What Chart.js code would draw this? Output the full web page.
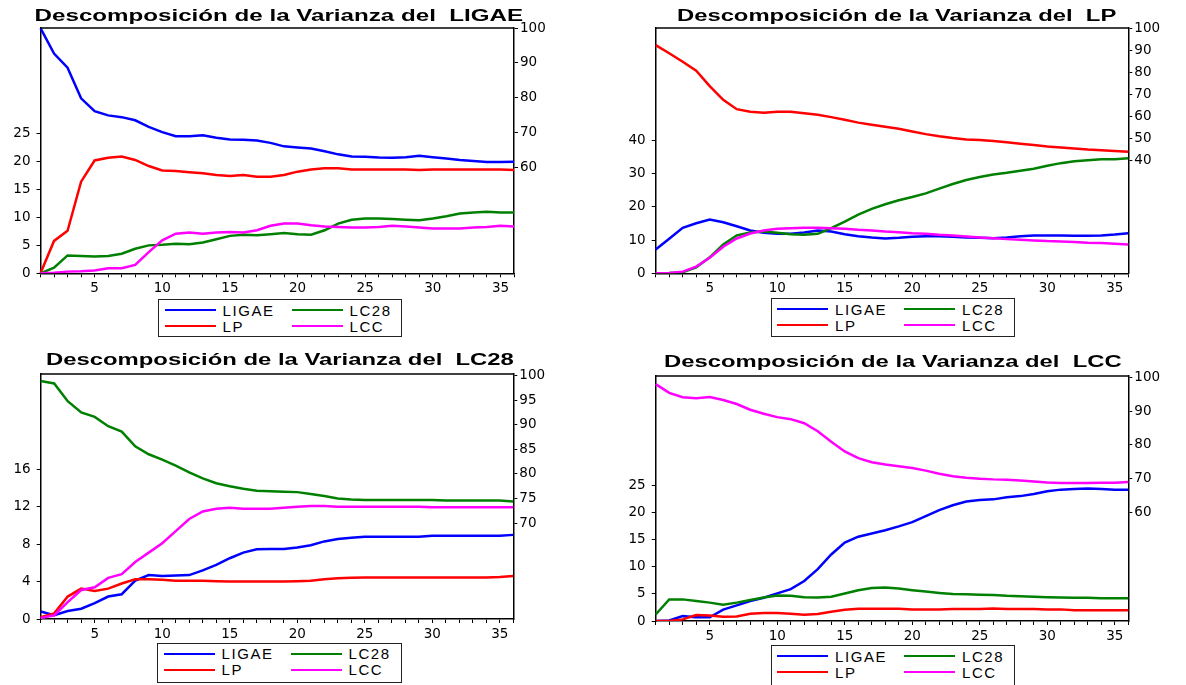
<!DOCTYPE html>
<html>
<head>
<meta charset="utf-8">
<script src="https://cdn.jsdelivr.net/npm/chart.js@4.4.1/dist/chart.umd.min.js"></script>
<style>
    body { margin: 0; background: #fff; width: 1186px; height: 685px; position: relative; overflow: hidden; font-family: "Liberation Sans", Arial, sans-serif; }
    .caja { position: absolute; }
    .titulo { position: absolute; font-weight: bold; font-size: 16px; line-height: 16px; white-space: pre; transform-origin: center top; color: #000; }
    .leyenda { position: absolute; border: 1.5px solid #222; box-sizing: border-box; background: #fff; }
    .item { position: absolute; height: 16px; display: flex; align-items: center; font-size: 15px; letter-spacing: 1.6px; white-space: nowrap; color: #000; }
    .item i { display: inline-block; width: 51px; height: 2px; margin-right: 7px; }
</style>
</head>
<body>
<script>
// periodos del horizonte
const periodos = [1, 2, 3, 4, 5, 6, 7, 8, 9, 10, 11, 12, 13, 14, 15, 16, 17, 18,
    19, 20, 21, 22, 23, 24, 25, 26, 27, 28, 29, 30, 31, 32, 33, 34, 35, 36];

const series = ["LIGAE", "LP", "LC28", "LCC"];

// Descomposicion de la varianza del LIGAE
const ligae_LIGAE = [100, 92.7, 88.6, 79.8, 76.1, 74.9, 74.4, 73.5, 71.6, 70.1, 68.9, 68.9, 69.2, 68.5, 68.0, 67.9, 67.7, 67.0,
    66.0, 65.7, 65.4, 64.6, 63.7, 63.1, 63.0, 62.8, 62.7, 62.9, 63.3, 62.9, 62.5, 62.1, 61.8, 61.5, 61.5, 61.6];
const ligae_LP = [0, 5.8, 7.6, 16.4, 20.2, 20.7, 20.9, 20.3, 19.2, 18.4, 18.3, 18.1, 17.9, 17.6, 17.4, 17.6, 17.3, 17.3,
    17.6, 18.2, 18.6, 18.8, 18.8, 18.6, 18.6, 18.6, 18.6, 18.6, 18.5, 18.6, 18.6, 18.6, 18.6, 18.6, 18.6, 18.5];
const ligae_LC28 = [0, 1.0, 3.2, 3.1, 3.0, 3.1, 3.5, 4.4, 5.0, 5.1, 5.3, 5.2, 5.5, 6.1, 6.7, 6.9, 6.8, 7.0,
    7.2, 7.0, 6.9, 7.7, 8.9, 9.6, 9.8, 9.8, 9.7, 9.6, 9.5, 9.8, 10.2, 10.7, 10.9, 11.0, 10.9, 10.9];
const ligae_LCC = [0, 0.1, 0.3, 0.35, 0.5, 0.9, 0.9, 1.5, 3.8, 5.9, 7.1, 7.3, 7.1, 7.3, 7.4, 7.3, 7.7, 8.5,
    8.9, 8.9, 8.6, 8.4, 8.3, 8.2, 8.2, 8.3, 8.5, 8.4, 8.2, 8.0, 8.0, 8.0, 8.2, 8.3, 8.5, 8.4];

// Descomposicion de la varianza del LP
const lp_LIGAE = [7.2, 10.4, 13.7, 15.1, 16.2, 15.4, 14.2, 12.9, 12.2, 11.9, 11.9, 12.3, 12.9, 12.6, 11.8, 11.2, 10.8, 10.5,
    10.7, 11.0, 11.2, 11.2, 11.0, 10.8, 10.7, 10.6, 10.8, 11.2, 11.4, 11.4, 11.4, 11.3, 11.3, 11.4, 11.7, 12.1];
const lp_LP = [92.3, 88.6, 84.8, 80.7, 73.7, 67.5, 63.3, 62.1, 61.7, 62.1, 62.1, 61.5, 60.8, 59.7, 58.5, 57.2, 56.2, 55.3,
    54.4, 53.2, 52.0, 51.0, 50.2, 49.6, 49.3, 48.9, 48.3, 47.7, 47.1, 46.4, 45.9, 45.5, 45.0, 44.7, 44.4, 44.0];
const lp_LC28 = [0, 0.1, 0.3, 1.8, 4.8, 8.7, 11.4, 12.3, 12.6, 12.2, 11.8, 11.6, 11.9, 13.6, 15.6, 17.7, 19.4, 20.8,
    22.0, 23.0, 24.1, 25.5, 26.9, 28.1, 29.0, 29.8, 30.3, 30.9, 31.5, 32.4, 33.2, 33.8, 34.1, 34.4, 34.4, 34.7];
const lp_LCC = [0, 0.1, 0.5, 2.0, 4.7, 8.0, 10.5, 12.0, 12.9, 13.4, 13.6, 13.7, 13.7, 13.6, 13.4, 13.1, 12.9, 12.6,
    12.4, 12.1, 11.9, 11.6, 11.4, 11.1, 10.8, 10.6, 10.3, 10.1, 9.9, 9.7, 9.6, 9.4, 9.2, 9.1, 8.9, 8.7];

// Descomposicion de la varianza del LC28
const lc28_LIGAE = [0.8, 0.4, 0.85, 1.1, 1.7, 2.4, 2.65, 4.1, 4.7, 4.6, 4.65, 4.7, 5.2, 5.8, 6.5, 7.1, 7.45, 7.5,
    7.5, 7.65, 7.9, 8.3, 8.55, 8.7, 8.8, 8.8, 8.8, 8.8, 8.8, 8.9, 8.9, 8.9, 8.9, 8.9, 8.9, 9.0];
const lc28_LP = [0.2, 0.6, 2.4, 3.25, 3.0, 3.25, 3.8, 4.25, 4.25, 4.2, 4.1, 4.1, 4.1, 4.05, 4.0, 4.0, 4.0, 4.0,
    4.0, 4.05, 4.1, 4.25, 4.35, 4.4, 4.45, 4.45, 4.45, 4.45, 4.45, 4.45, 4.45, 4.45, 4.45, 4.45, 4.5, 4.6];
const lc28_LC28 = [98.9, 98.4, 94.8, 92.5, 91.6, 89.7, 88.6, 85.6, 84.0, 82.9, 81.7, 80.3, 79.1, 78.1, 77.5, 77.0, 76.6, 76.5,
    76.4, 76.3, 75.9, 75.5, 75.0, 74.8, 74.7, 74.7, 74.7, 74.7, 74.7, 74.7, 74.6, 74.6, 74.6, 74.6, 74.6, 74.4];
const lc28_LCC = [0.1, 0.4, 1.8, 3.1, 3.4, 4.4, 4.8, 6.1, 7.1, 8.1, 9.4, 10.7, 11.5, 11.8, 11.9, 11.8, 11.8, 11.8,
    11.9, 12.0, 12.1, 12.1, 12.0, 12.0, 12.0, 12.0, 12.0, 12.0, 12.0, 11.95, 11.95, 11.95, 11.95, 11.95, 11.95, 11.95];

// Descomposicion de la varianza del LCC
const lcc_LIGAE = [0, 0.1, 0.9, 0.7, 0.7, 2.1, 2.9, 3.7, 4.3, 5.1, 5.9, 7.4, 9.6, 12.3, 14.5, 15.6, 16.2, 16.8,
    17.5, 18.3, 19.4, 20.5, 21.4, 22.1, 22.4, 22.5, 22.9, 23.1, 23.5, 24.0, 24.3, 24.4, 24.5, 24.4, 24.3, 24.3];
const lcc_LP = [0, 0, 0.3, 1.1, 1.0, 0.8, 0.85, 1.35, 1.5, 1.5, 1.35, 1.15, 1.3, 1.7, 2.1, 2.25, 2.25, 2.25,
    2.25, 2.15, 2.15, 2.15, 2.2, 2.2, 2.2, 2.3, 2.2, 2.2, 2.2, 2.15, 2.15, 2.0, 2.0, 2.0, 2.0, 2.0];
const lcc_LC28 = [1.2, 4.0, 4.0, 3.7, 3.4, 3.0, 3.4, 3.9, 4.35, 4.7, 4.65, 4.4, 4.35, 4.5, 5.1, 5.7, 6.1, 6.2,
    6.0, 5.7, 5.45, 5.2, 5.0, 4.95, 4.85, 4.8, 4.65, 4.6, 4.5, 4.4, 4.35, 4.3, 4.3, 4.2, 4.2, 4.2];
const lcc_LCC = [98.0, 95.4, 94.1, 93.8, 94.2, 93.3, 92.1, 90.4, 89.2, 88.2, 87.6, 86.4, 84.0, 80.9, 78.0, 76.0, 74.8, 74.1,
    73.6, 73.1, 72.3, 71.4, 70.6, 70.2, 69.9, 69.7, 69.6, 69.4, 69.1, 68.8, 68.6, 68.6, 68.6, 68.7, 68.7, 68.9];

// marcas de los ejes
const ticksIzq_LIGAE = [0, 5, 10, 15, 20, 25];
const ticksDer_LIGAE = [60, 70, 80, 90, 100];
const ticksIzq_LP = [0, 10, 20, 30, 40];
const ticksDer_LP = [40, 50, 60, 70, 80, 90, 100];
const ticksIzq_LC28 = [0, 4, 8, 12, 16];
const ticksDer_LC28 = [70, 75, 80, 85, 90, 95, 100];
const ticksIzq_LCC = [0, 5, 10, 15, 20, 25];
const ticksDer_LCC = [60, 70, 80, 90, 100];

const colores = { LIGAE: "#0000ff", LP: "#ff0000", LC28: "#008000", LCC: "#ff00ff" };
const fuenteEje = { family: "'DejaVu Sans', sans-serif", size: 13.5 };

const paneles = [
    {
        shock: "LIGAE", datos: [ligae_LIGAE, ligae_LP, ligae_LC28, ligae_LCC],
        izq: [0, 43.9], der: [29.5, 100], ticksIzq: ticksIzq_LIGAE, ticksDer: ticksDer_LIGAE,
        caja: { x: 0, y: 14, w: 590, h: 286 }, area: { l: 40.5, r: 514, t: 25.7, b: 273.3 },
        titulo: { cx: 278.5, y: 8, w: 489 }, leyenda: { x: 158, y: 299, w: 244, h: 38 }
    },
    {
        shock: "LP", datos: [lp_LIGAE, lp_LP, lp_LC28, lp_LCC],
        izq: [0, 73.9], der: [-11, 100], ticksIzq: ticksIzq_LP, ticksDer: ticksDer_LP,
        caja: { x: 595, y: 14, w: 591, h: 286 }, area: { l: 655.7, r: 1128.3, t: 25.7, b: 273.3 },
        titulo: { cx: 896, y: 8, w: 439 }, leyenda: { x: 770.5, y: 298, w: 244.5, h: 39 }
    },
    {
        shock: "LC28", datos: [lc28_LIGAE, lc28_LP, lc28_LC28, lc28_LCC],
        izq: [0, 26.2], der: [50.5, 100.3], ticksIzq: ticksIzq_LC28, ticksDer: ticksDer_LC28,
        caja: { x: 0, y: 360, w: 590, h: 286 }, area: { l: 40.7, r: 513.3, t: 371.7, b: 619 },
        titulo: { cx: 280, y: 352, w: 468 }, leyenda: { x: 157, y: 642.5, w: 244.5, h: 40 }
    },
    {
        shock: "LCC", datos: [lcc_LIGAE, lcc_LP, lcc_LC28, lcc_LCC],
        izq: [0, 45.3], der: [27.6, 100.4], ticksIzq: ticksIzq_LCC, ticksDer: ticksDer_LCC,
        caja: { x: 595, y: 361.5, w: 591, h: 286 }, area: { l: 655.7, r: 1128.3, t: 373.3, b: 620.5 },
        titulo: { cx: 892.5, y: 354, w: 458 }, leyenda: { x: 770.5, y: 645, w: 244, h: 42 }
    }
];

// linea superior del marco
const marco = {
    id: "marco",
    afterDraw(chart) {
        const { ctx, chartArea: a } = chart;
        ctx.save();
        ctx.strokeStyle = "#000";
        ctx.lineWidth = 1.5;
        ctx.beginPath();
        ctx.moveTo(a.left, a.top);
        ctx.lineTo(a.right, a.top);
        ctx.stroke();
        ctx.restore();
    }
};

function ejeY(p, lado) {
    const izq = lado === "left";
    const rango = izq ? p.izq : p.der;
    const marcas = izq ? p.ticksIzq : p.ticksDer;
    return {
        type: "linear",
        position: lado,
        min: rango[0],
        max: rango[1],
        grid: { drawOnChartArea: false, tickLength: 4, color: "#000", tickWidth: 1 },
        border: { color: "#000", width: 1.5 },
        ticks: { padding: izq ? 6 : 2, color: "#000", font: fuenteEje },
        afterBuildTicks: s => { s.ticks = marcas.map(v => ({ value: v })); },
        afterFit: s => { s.width = izq ? p.area.l - p.caja.x : p.caja.x + p.caja.w - p.area.r; }
    };
}

function crearPanel(p) {
    const div = document.createElement("div");
    div.className = "caja";
    Object.assign(div.style, {
        left: p.caja.x + "px", top: p.caja.y + "px",
        width: p.caja.w + "px", height: p.caja.h + "px"
    });
    const canvas = document.createElement("canvas");
    div.appendChild(canvas);
    document.body.appendChild(div);

    const datasets = series.map((nombre, i) => ({
        label: nombre,
        data: p.datos[i],
        borderColor: colores[nombre],
        backgroundColor: colores[nombre],
        borderWidth: 2.5,
        pointRadius: 0,
        tension: 0,
        fill: false,
        yAxisID: nombre === p.shock ? "yDer" : "yIzq",
        order: 4 - i
    }));

    new Chart(canvas, {
        type: "line",
        data: { labels: periodos, datasets },
        options: {
            responsive: true,
            maintainAspectRatio: false,
            animation: false,
            layout: { padding: { top: p.area.t - p.caja.y, left: 0, right: 0, bottom: 0 } },
            plugins: { legend: { display: false }, tooltip: { enabled: false } },
            scales: {
                x: {
                    type: "category",
                    offset: false,
                    grid: { drawOnChartArea: false, tickLength: 4, color: "#000", tickWidth: 1 },
                    border: { color: "#000", width: 1.5 },
                    ticks: {
                        autoSkip: false, maxRotation: 0, padding: 3, color: "#000", font: fuenteEje,
                        callback: (v, i) => periodos[i] % 5 === 0 ? String(periodos[i]) : ""
                    },
                    afterFit: s => { s.height = p.caja.y + p.caja.h - p.area.b; }
                },
                yIzq: ejeY(p, "left"),
                yDer: ejeY(p, "right")
            }
        },
        plugins: [marco]
    });

    // titulo
    const t = document.createElement("div");
    t.className = "titulo";
    t.textContent = "Descomposición de la Varianza del  " + p.shock;
    document.body.appendChild(t);
    const ancho = t.offsetWidth;
    t.style.left = (p.titulo.cx - ancho / 2) + "px";
    t.style.top = p.titulo.y + "px";
    t.style.transform = `scaleX(${p.titulo.w / ancho})`;

    // leyenda en dos columnas
    const ley = document.createElement("div");
    ley.className = "leyenda";
    Object.assign(ley.style, {
        left: p.leyenda.x + "px", top: p.leyenda.y + "px",
        width: p.leyenda.w + "px", height: p.leyenda.h + "px"
    });
    ["LIGAE", "LC28", "LP", "LCC"].forEach((nombre, k) => {
        const item = document.createElement("div");
        item.className = "item";
        item.style.left = (5.5 + (k % 2) * 127) + "px";
        item.style.top = (2 + Math.floor(k / 2) * 16) + "px";
        const linea = document.createElement("i");
        linea.style.background = colores[nombre];
        item.appendChild(linea);
        item.appendChild(document.createTextNode(nombre));
        ley.appendChild(item);
    });
    document.body.appendChild(ley);
}

paneles.forEach(crearPanel);
</script>
</body>
</html>
